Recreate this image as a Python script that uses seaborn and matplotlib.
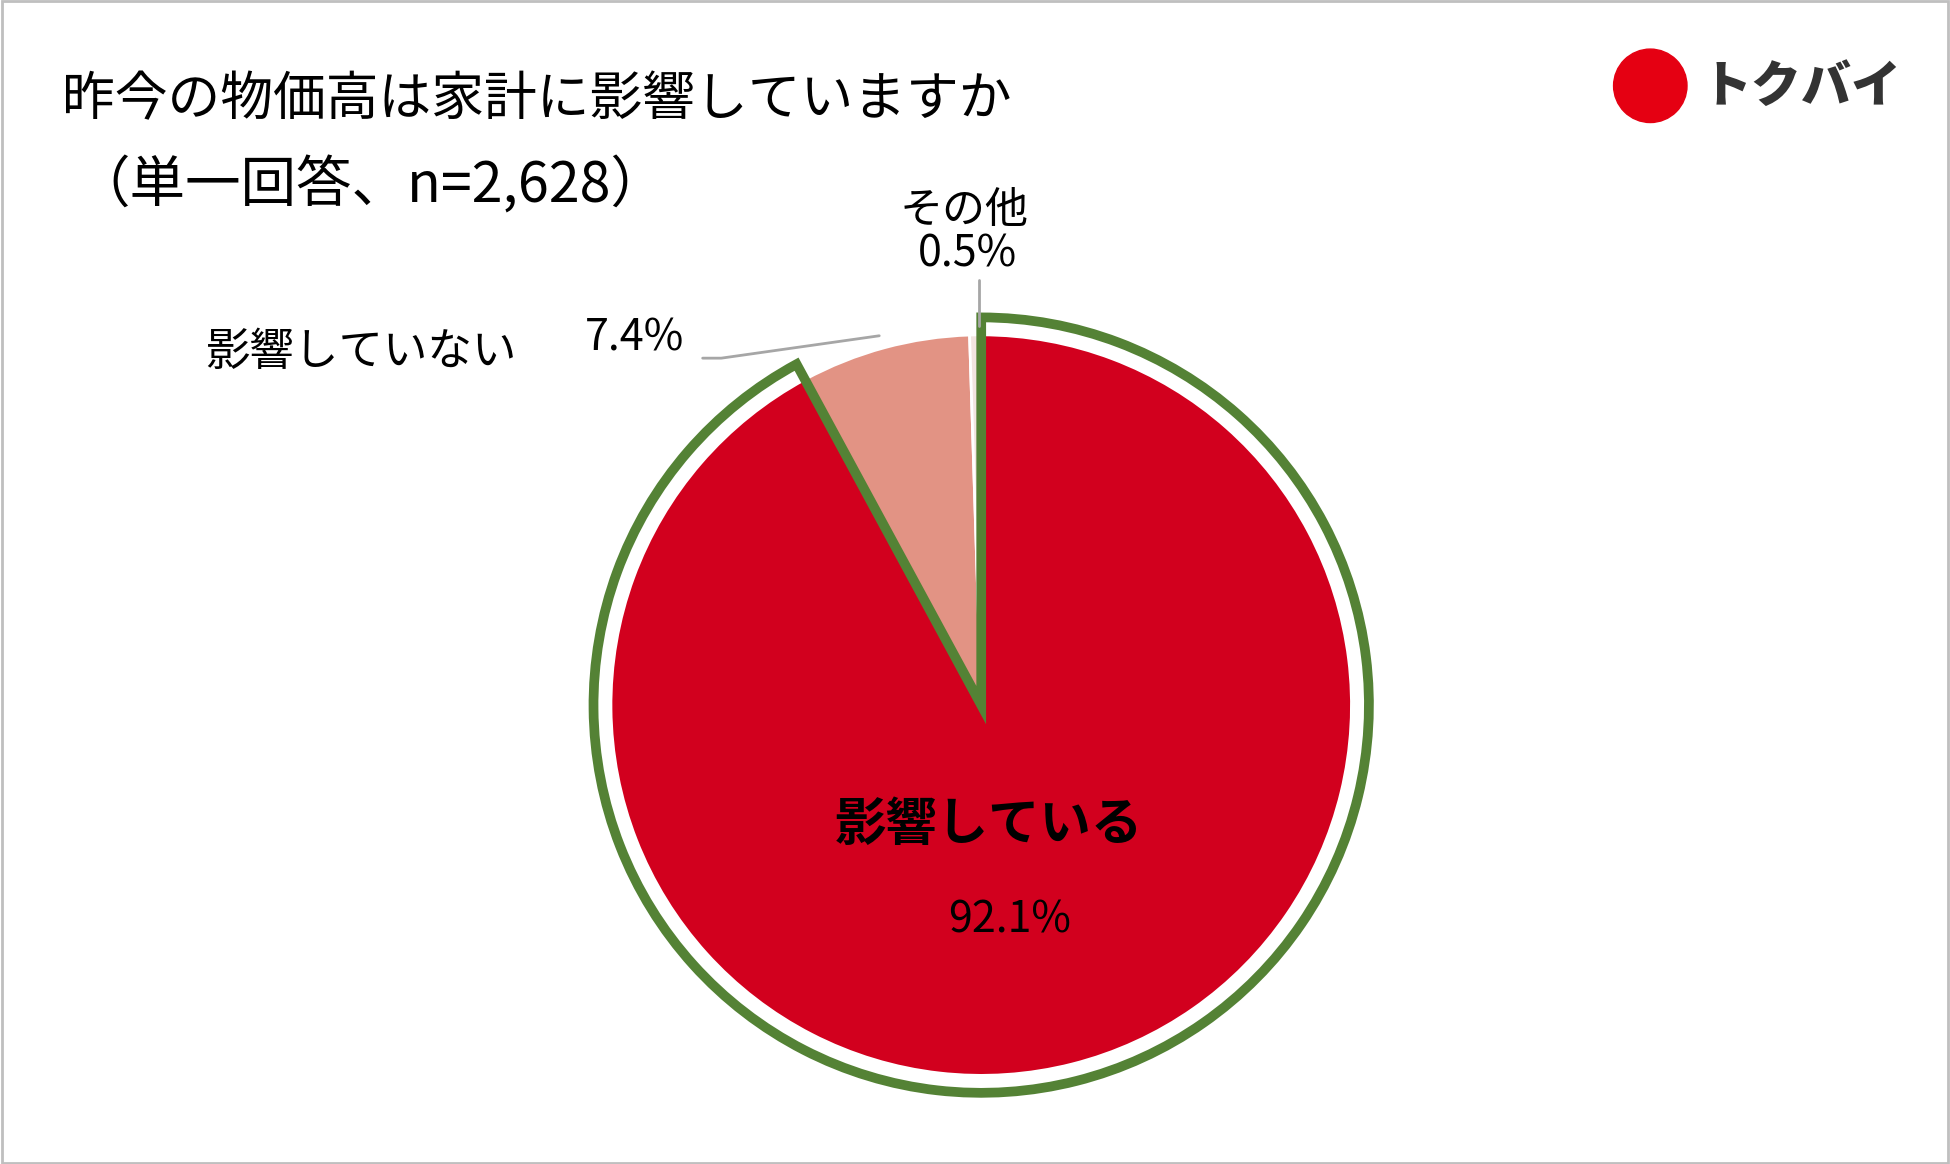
import matplotlib
matplotlib.use("Agg")
import matplotlib.pyplot as plt
import seaborn as sns
from matplotlib.patches import Rectangle, Circle

sns.set_theme(style="white")
plt.rcParams['font.family'] = ['Noto Sans CJK JP', 'DejaVu Sans']

categories = ["影響している", "影響していない", "その他"]
values = [92.1, 7.4, 0.5]
value_labels = ["92.1%", "7.4%", "0.5%"]
colors = ["#D2001E", "#E29384", "#F2E4E0"]

fig = plt.figure(figsize=(19.5, 11.64), dpi=100)
W, H = 1568, 936
def fx(x): return x / W
def fy(y): return 1 - y / H

fig.patches.append(Rectangle((0.001, 0.001), 0.998, 0.998, transform=fig.transFigure,
                             fill=False, edgecolor="#BFBFBF", linewidth=2))

cx, cy, r = 789, 567, 318
ax = fig.add_axes([fx(cx - r), fy(cy + r), 2 * r / W, 2 * r / H])
ax.set_aspect("equal")
ax.pie(values, startangle=90, counterclock=False, radius=0.955, colors=colors,
       wedgeprops=dict(edgecolor="white", linewidth=2))
w_out, _ = ax.pie([values[0], 100 - values[0]], startangle=90, counterclock=False, radius=1.0,
                  colors=["none", "none"], wedgeprops=dict(linewidth=0))
w_out[0].set_edgecolor("#548235"); w_out[0].set_linewidth(7)
ax.set_xlim(-1.02, 1.02); ax.set_ylim(-1.02, 1.02)
ax.axis("off")

fs = 31
fig.text(fx(50), fy(80), "昨今の物価高は家計に影響していますか", fontsize=38, va="center", ha="left", color="black")
fig.text(fx(60), fy(150), "（単一回答、n=2,628）", fontsize=40, va="center", ha="left", color="black")

fig.text(fx(775), fy(170), categories[2], fontsize=fs, ha="center", va="center", color="black")
fig.text(fx(778), fy(205), value_labels[2], fontsize=fs, ha="center", va="center", color="black")
fig.text(fx(290), fy(283), categories[1], fontsize=32, ha="center", va="center", color="black")
fig.text(fx(510), fy(272), value_labels[1], fontsize=fs, ha="center", va="center", color="black")
fig.text(fx(795), fy(663), categories[0], fontsize=37, fontweight="bold", ha="center", va="center", color="black")
fig.text(fx(812), fy(740), value_labels[0], fontsize=fs, ha="center", va="center", color="black")

fig.add_artist(plt.Line2D([fx(565), fx(580), fx(707)], [fy(288), fy(288), fy(270)],
                          transform=fig.transFigure, color="#A6A6A6", linewidth=2))
fig.add_artist(plt.Line2D([fx(787), fx(787)], [fy(225), fy(262)],
                          transform=fig.transFigure, color="#A6A6A6", linewidth=2))

lax = fig.add_axes([fx(1296), fy(100), 62 / W, 62 / H])
lax.set_aspect("equal"); lax.axis("off")
lax.add_patch(Circle((0, 0), 1, color="#E50012"))
lax.set_xlim(-1.05, 1.05); lax.set_ylim(-1.05, 1.05)
fig.text(fx(1368), fy(70), "トクバイ", fontsize=36, fontweight="black", color="#333333",
         ha="left", va="center")

fig.savefig("out.png", dpi=100, facecolor="white")
